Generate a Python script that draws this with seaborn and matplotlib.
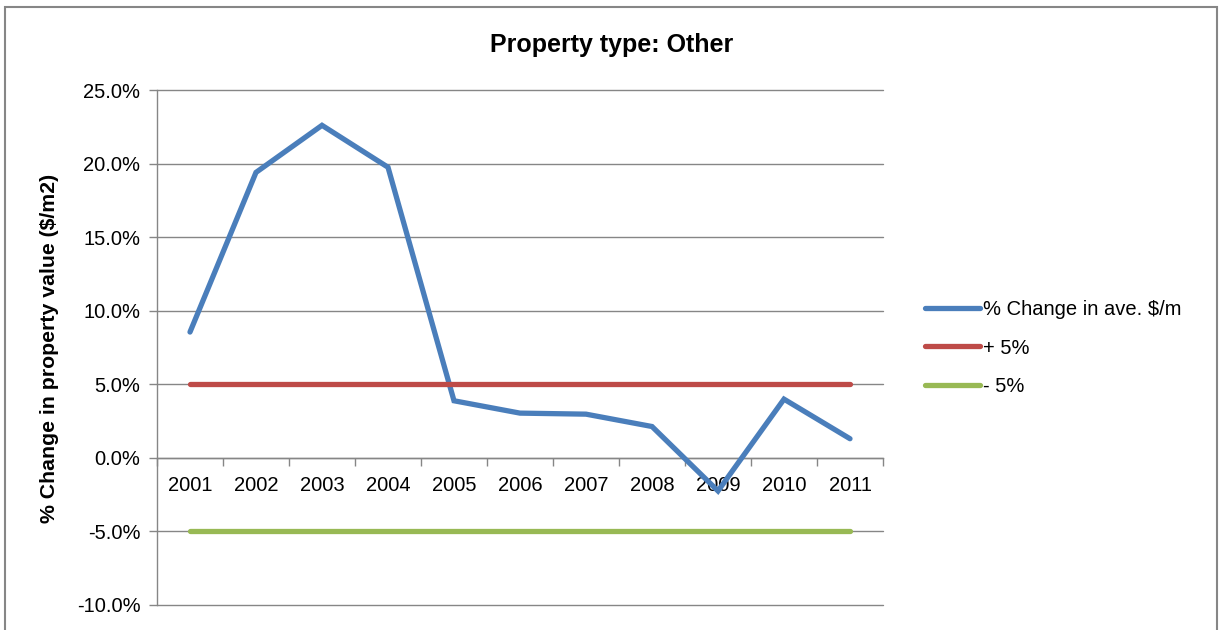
"""
Property value change chart (type: Other), with +/-5% bands.
"""

import pandas as pd
import numpy as np
import matplotlib
matplotlib.use("Agg")
import matplotlib.pyplot as plt
from matplotlib.patches import Rectangle
from matplotlib.ticker import FuncFormatter
import seaborn as sns

# data
years = ["2001", "2002", "2003", "2004", "2005", "2006",
         "2007", "2008", "2009", "2010", "2011"]
pct_change = [8.55, 19.4, 22.6, 19.75, 3.88, 3.04, 2.97, 2.13, -2.25, 3.99, 1.3]
plus_5 = [5.0] * len(years)
minus_5 = [-5.0] * len(years)
series_names = ["% Change in ave. $/m", "+ 5%", "- 5%"]
colors = ["#4A7EBB", "#BE4B48", "#98B954"]
y_ticks = [-10, -5, 0, 5, 10, 15, 20, 25]

sns.set_theme(style="white", rc={"text.color": "black", "axes.labelcolor": "black"})
plt.rcParams['font.family'] = ['Liberation Sans', 'DejaVu Sans']

pos = np.arange(len(years))
df = pd.concat([
    pd.DataFrame({"pos": pos, "value": vals, "series": name})
    for name, vals in zip(series_names, [pct_change, plus_5, minus_5])
])

fig = plt.figure(figsize=(12.21, 6.3), dpi=100)
ax = fig.add_axes([157 / 1221, 1 - 605 / 630, (883 - 157) / 1221, (605 - 90) / 630])

sns.lineplot(data=df, x="pos", y="value", hue="series", hue_order=series_names,
             palette=colors, linewidth=3.8, ax=ax, legend=True, zorder=3)
for line in ax.get_lines():
    line.set_solid_capstyle("round")
    line.set_solid_joinstyle("miter")

ax.set_xlim(-0.5, len(years) - 0.5)
ax.set_ylim(-10, 25)
ax.set_yticks(y_ticks)
ax.yaxis.set_major_formatter(FuncFormatter(lambda v, _: f"{v:.1f}%"))
ax.grid(axis="y", color="#868686", linewidth=1.0)
for gl in ax.get_ygridlines():
    gl.set_clip_on(False)
ax.set_axisbelow(True)

# category axis crosses at 0, ticks between categories
ax.spines["bottom"].set_position(("data", 0))
for s in ["top", "right"]:
    ax.spines[s].set_visible(False)
for s in ["left", "bottom"]:
    ax.spines[s].set_color("#868686")
    ax.spines[s].set_linewidth(1.0)
ax.set_xticks(np.arange(len(years) + 1) - 0.5)
ax.set_xticklabels([])
ax.set_xticks(pos, minor=True)
ax.set_xticklabels(years, minor=True)
ax.tick_params(axis="x", which="major", direction="out", length=6, color="#868686", width=1)
ax.tick_params(axis="x", which="minor", length=0, pad=13, labelsize=14.5, labelcolor="black")
ax.tick_params(axis="y", direction="out", length=6, color="#868686", width=1,
               labelsize=14.5, labelcolor="black", pad=6)
ax.tick_params(left=True, bottom=True)
ax.set_xlabel("")
ax.set_ylabel("")

handles, labels = ax.get_legend_handles_labels()
leg = ax.legend(handles, labels, loc="center left", bbox_to_anchor=(925 / 1221, 1 - 348 / 630),
                bbox_transform=fig.transFigure, frameon=False, fontsize=14.5,
                handlelength=2.75, handletextpad=0.15, labelspacing=0.95,
                borderpad=0, borderaxespad=0)
for t in leg.get_texts():
    t.set_color("black")

fig.text(612 / 1221, 1 - 45 / 630, "Property type: Other", ha="center", va="center",
         fontsize=18, fontweight="bold", color="black")
fig.text(50 / 1221, 1 - 348 / 630, "% Change in property value ($/m2)", rotation=90,
         ha="center", va="center", fontsize=15.3, fontweight="bold", color="black")

fig.patches.append(Rectangle((5 / 1221, -0.02), (1217 - 5) / 1221, 0.02 + 1 - 7 / 630,
                             transform=fig.transFigure, fill=False,
                             edgecolor="#868686", linewidth=1.5))

fig.savefig("out.png", dpi=100)
